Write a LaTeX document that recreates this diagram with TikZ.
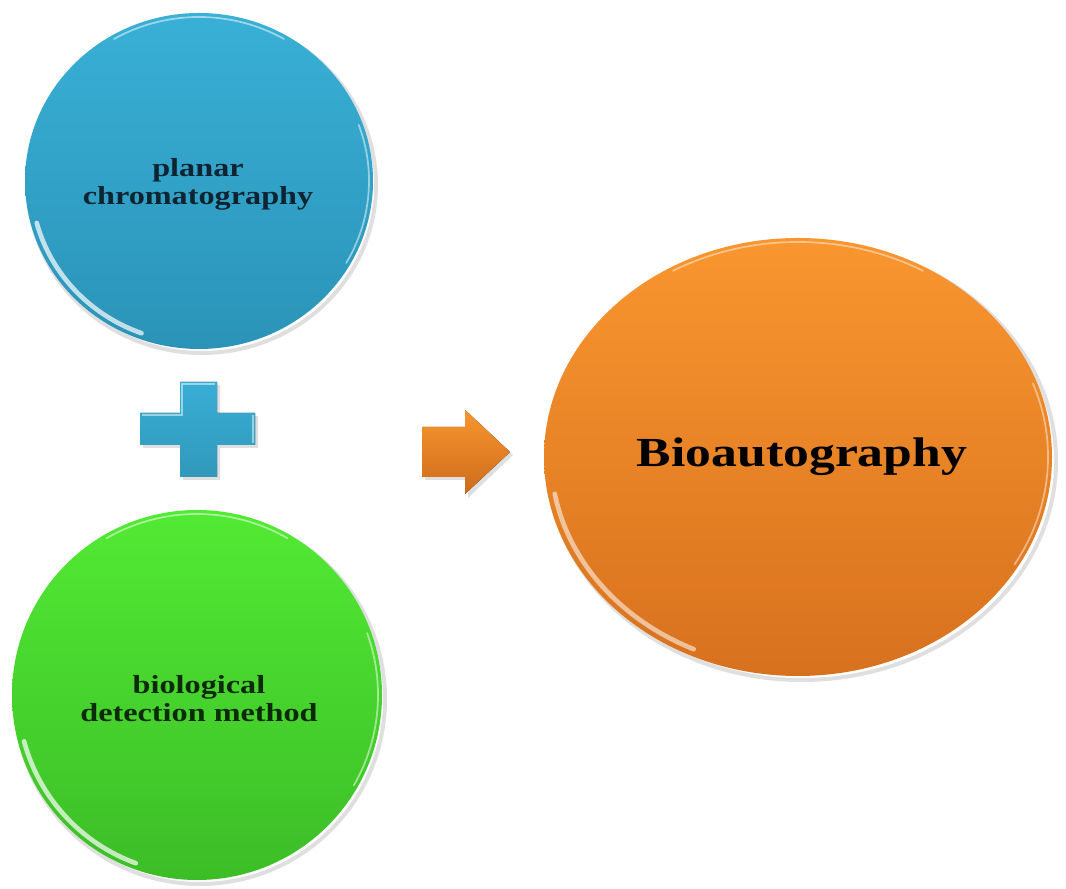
\documentclass[tikz,border=0pt]{standalone}
\usepackage{fontspec}
\usepackage{graphicx}
\setmainfont{Liberation Serif}
\usetikzlibrary{shapes.geometric}
\definecolor{blueT}{HTML}{39B0D6}
\definecolor{blueB}{HTML}{2B93B8}
\definecolor{greenT}{HTML}{52EA34}
\definecolor{greenB}{HTML}{3CBD27}
\definecolor{orT}{HTML}{F9962F}
\definecolor{orB}{HTML}{D8711E}
\definecolor{bluetxt}{HTML}{0E2433}
\definecolor{greentxt}{HTML}{0D2A08}
\definecolor{plusC}{HTML}{38AED4}
\tikzset{
  bubble/.style={ellipse, inner sep=0pt, align=center},
  hl/.style={white, line cap=round, opacity=0.7, line width=3.5pt},
  hlthin/.style={white, line cap=round, opacity=0.5, line width=1.3pt},
  shade/.style={gray, opacity=0.25, line width=3pt},
  lbl/.style={align=center, font=\bfseries\fontsize{19.5pt}{21pt}\selectfont, inner sep=0pt},
}
\begin{document}
\begin{tikzpicture}[x=0.75pt,y=0.75pt]
\useasboundingbox[fill=white] (0,0) rectangle (1066,888);
% shadows
\draw[shade] (202,703) ellipse[x radius=174, y radius=168];
\draw[shade] (200,189) ellipse[x radius=185, y radius=185];
\draw[shade] (802,427) ellipse[x radius=254, y radius=219];
% bubbles
\node[bubble, top color=blueT, bottom color=blueB, minimum width=261pt, minimum height=252pt] (pc) at (199,707) {};
\node[bubble, top color=greenT, bottom color=greenB, minimum width=277.5pt, minimum height=277.5pt] (bd) at (197,193) {};
\node[bubble, top color=orT, bottom color=orB, minimum width=381pt, minimum height=328.5pt] (ba) at (798,431) {};
% highlights
\draw[hl] (pc.center) ++(195:168 and 162) arc[start angle=195, end angle=250, x radius=168, y radius=162];
\draw[hlthin] (pc.center) ++(60:170 and 164) arc[start angle=60, end angle=120, x radius=170, y radius=164];
\draw[hlthin] (pc.center) ++(-30:170 and 164) arc[start angle=-30, end angle=20, x radius=170, y radius=164];
\draw[hl] (bd.center) ++(195:179 and 179) arc[start angle=195, end angle=250, x radius=179, y radius=179];
\draw[hlthin] (bd.center) ++(60:181 and 181) arc[start angle=60, end angle=120, x radius=181, y radius=181];
\draw[hlthin] (bd.center) ++(-30:181 and 181) arc[start angle=-30, end angle=20, x radius=181, y radius=181];
\draw[hl, opacity=0.55] (ba.center) ++(190:247 and 212) arc[start angle=190, end angle=245, x radius=247, y radius=212];
\draw[hlthin, opacity=0.45] (ba.center) ++(60:250 and 215) arc[start angle=60, end angle=120, x radius=250, y radius=215];
\draw[hlthin, opacity=0.45] (ba.center) ++(-30:250 and 215) arc[start angle=-30, end angle=20, x radius=250, y radius=215];
% labels
\node[lbl, text=bluetxt] (pct) at (198,704) {\scalebox{1.24}[1]{planar}\\\scalebox{1.24}[1]{chromatography}};
\node[lbl, text=greentxt] (bdt) at (199,189) {\scalebox{1.24}[1]{biological}\\\scalebox{1.24}[1]{detection method}};
\node[lbl, font=\bfseries\fontsize{31pt}{32pt}\selectfont, text=black] (bat) at (802,431) {\scalebox{1.25}[1]{Bioautography}};
% plus sign
\fill[gray, opacity=0.25] (143,440) -- (183,440) -- (183,408) -- (220,408) -- (220,440) -- (258,440) -- (258,472) -- (220,472) -- (220,503) -- (183,503) -- (183,472) -- (143,472) -- cycle;
\fill[top color=plusC, bottom color=plusC!88!black] (140,443) -- (180,443) -- (180,411) -- (217,411) -- (217,443) -- (255,443) -- (255,475) -- (217,475) -- (217,506) -- (180,506) -- (180,475) -- (140,475) -- cycle;
\draw[white, opacity=0.5, line width=1.2pt] (142,473) -- (182,473) -- (182,504) -- (215,504);
\draw[white, opacity=0.5, line width=1.2pt] (253,445) -- (253,473);
% arrow
\fill[gray, opacity=0.25] (425,408) -- (468,408) -- (468,390) -- (513,433) -- (468,476) -- (468,458) -- (425,458) -- cycle;
\fill[top color=orT, bottom color=orB!95!black] (422,411) -- (465,411) -- (465,394) -- (510,436) -- (465,478) -- (465,461) -- (422,461) -- cycle;
\end{tikzpicture}
\end{document}
